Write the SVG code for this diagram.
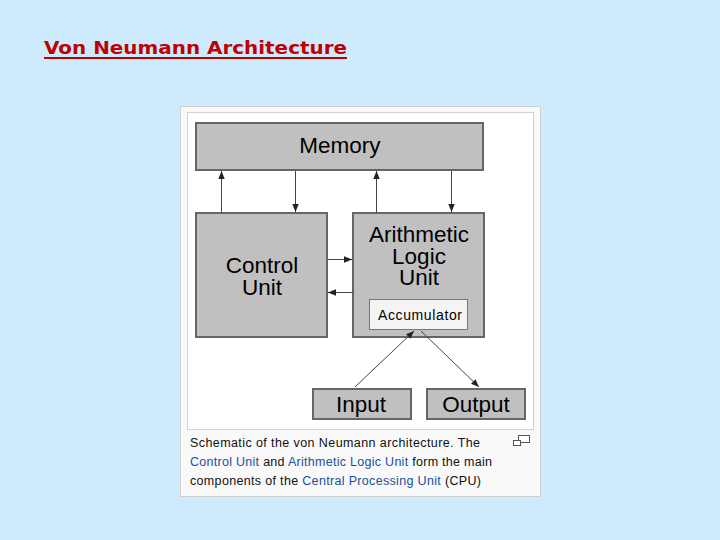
<svg xmlns="http://www.w3.org/2000/svg" width="720" height="540" viewBox="0 0 720 540">
<defs>
<style>
.box{fill:#c0c0c0;stroke:#666;stroke-width:2}
.lbl{font-family:"Liberation Sans",Arial,sans-serif;fill:#000;text-anchor:middle}
.big{font-size:22.5px}
.con{stroke:#444;stroke-width:1;fill:none;marker-end:url(#ah)}
.cap{font-family:"Liberation Sans",Arial,sans-serif;font-size:12.5px;fill:#111}
.lnk{fill:#1a4fa0}
</style>
<marker id="ah" viewBox="0 0 10 10" refX="10" refY="5" markerWidth="8" markerHeight="8" markerUnits="userSpaceOnUse" orient="auto">
<path d="M0,1 L10,5 L0,9 Z" fill="#222"/>
</marker>
</defs>
<rect width="720" height="540" fill="#cdebfd"/>
<g id="title">
<text x="44" y="54" font-family="'DejaVu Sans',Verdana,sans-serif" font-weight="bold" font-size="17.5px" fill="#c00000" textLength="303" lengthAdjust="spacingAndGlyphs">Von Neumann Architecture</text>
<line x1="44" y1="58" x2="347" y2="58" stroke="#c00000" stroke-width="2"/>
</g>
<g id="card">
<rect x="180.5" y="106.5" width="360" height="390" fill="#f9f9f9" stroke="#d0d0d0"/>
<rect x="187.5" y="112.5" width="346" height="317" fill="#ffffff" stroke="#d0d0d0"/>
</g>
<g id="memory">
<rect class="box" x="196" y="123" width="287" height="47"/>
<text class="lbl big" x="340" y="153">Memory</text>
</g>
<g id="control-unit">
<rect class="box" x="196" y="213" width="131" height="124"/>
<text class="lbl big" x="262" y="273">Control</text>
<text class="lbl big" x="262" y="295">Unit</text>
</g>
<g id="alu">
<rect class="box" x="353" y="213" width="131" height="124"/>
<text class="lbl big" x="419" y="242">Arithmetic</text>
<text class="lbl big" x="419" y="264">Logic</text>
<text class="lbl big" x="419" y="285">Unit</text>
</g>
<g id="accumulator">
<rect x="369.5" y="299.5" width="98" height="30" fill="#f4f4f4" stroke="#777" stroke-width="1"/>
<text class="lbl" x="420" y="320" font-size="14px" fill="#111" textLength="84">Accumulator</text>
</g>
<g id="input">
<rect class="box" x="313" y="389" width="98" height="30"/>
<text class="lbl big" x="361" y="412">Input</text>
</g>
<g id="output">
<rect class="box" x="427" y="389" width="98" height="30"/>
<text class="lbl big" x="476" y="412">Output</text>
</g>
<g id="connectors">
<line class="con" x1="221.5" y1="213" x2="221.5" y2="171"/>
<line class="con" x1="295.5" y1="171" x2="295.5" y2="212"/>
<line class="con" x1="376.5" y1="213" x2="376.5" y2="171"/>
<line class="con" x1="451.5" y1="171" x2="451.5" y2="212"/>
<line class="con" x1="328" y1="259.5" x2="352" y2="259.5"/>
<line class="con" x1="353" y1="292.5" x2="328" y2="292.5"/>
<line class="con" x1="355" y1="387" x2="414" y2="331"/>
<line class="con" x1="421" y1="331" x2="479" y2="387"/>
</g>
<g id="caption">
<text class="cap" x="190" y="447" textLength="290">Schematic of the von Neumann architecture. The</text>
<text class="cap" x="190" y="466" textLength="302"><tspan class="lnk">Control Unit</tspan> and <tspan class="lnk">Arithmetic Logic Unit</tspan> form the main</text>
<text class="cap" x="190" y="485" textLength="291">components of the <tspan class="lnk">Central Processing Unit</tspan> (CPU)</text>
<rect x="518.5" y="435.5" width="11" height="7" fill="#fff" stroke="#555"/>
<rect x="513.5" y="440.5" width="7" height="5" fill="#fff" stroke="#555"/>
</g>
</svg>
